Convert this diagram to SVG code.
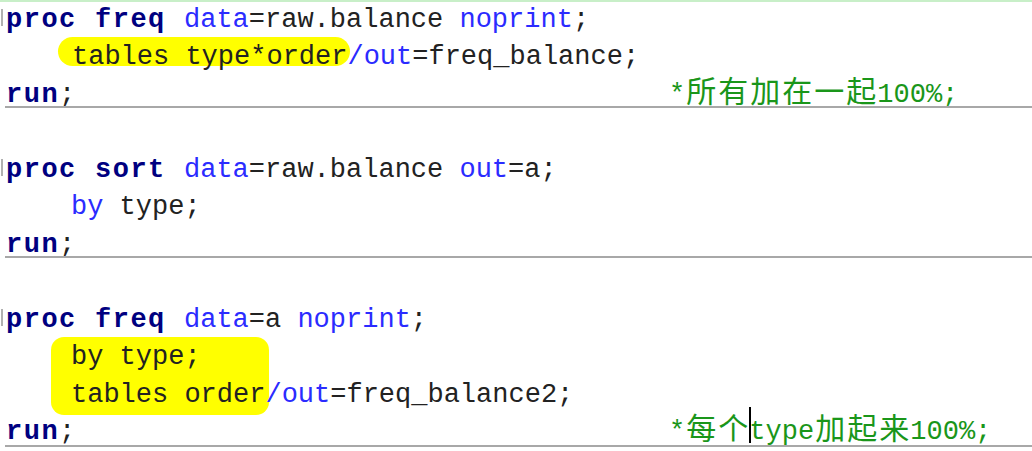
<svg xmlns="http://www.w3.org/2000/svg" width="1032" height="451" viewBox="0 0 1032 451">
<style>
text{font-family:"Liberation Mono","DejaVu Sans Mono",monospace;font-size:27px;fill:#222;white-space:pre}
.kw{font-weight:bold;fill:#000080;letter-spacing:1.5px}
.op{fill:#2b2bff}
.cm{fill:#1a961a}
.cj{font-family:"Noto Sans CJK SC",sans-serif;font-size:30px}
.rule{fill:#a8a8a8}
.tick{fill:#b0b0b0}
.hl{fill:#ffff00}
</style>
<rect x="0" y="0" width="1032" height="451" fill="#ffffff"/>
<rect x="0" y="0" width="1032" height="2" fill="#c8efc8"/>

<g id="block1">
<rect class="hl" x="58" y="37" width="292" height="29" rx="14.5"/>
<rect class="tick" x="1" y="9" width="2" height="17"/>
<text x="6" y="26.5" class="kw">proc</text>
<text x="95" y="26.5" class="kw">freq</text>
<text x="184" y="26.5"><tspan class="op">data</tspan>=raw.balance <tspan class="op">noprint</tspan>;</text>
<text x="72" y="64">tables type*order<tspan class="op">/out</tspan>=freq_balance;</text>
<text x="6" y="101.5" class="kw">run</text>
<text x="59" y="101.5">;</text>
<text y="101.5" class="cm"><tspan x="669">*</tspan><tspan class="cj" x="686.3 718.3 750.3 782.3 814.3 846.3">所有加在一起</tspan><tspan x="877.3">100%;</tspan></text>
<rect class="rule" x="5" y="106" width="1027" height="2"/>
</g>

<g id="block2">
<rect class="tick" x="1" y="159" width="2" height="17"/>
<text x="6" y="176.5" class="kw">proc</text>
<text x="95" y="176.5" class="kw">sort</text>
<text x="184" y="176.5"><tspan class="op">data</tspan>=raw.balance <tspan class="op">out</tspan>=a;</text>
<text x="71" y="214"><tspan class="op">by</tspan> type;</text>
<text x="6" y="251.5" class="kw">run</text>
<text x="59" y="251.5">;</text>
<rect class="rule" x="5" y="256" width="1027" height="2"/>
</g>

<g id="block3">
<rect class="hl" x="51" y="337" width="218" height="78" rx="13"/>
<rect class="tick" x="1" y="309" width="2" height="17"/>
<text x="6" y="326.5" class="kw">proc</text>
<text x="95" y="326.5" class="kw">freq</text>
<text x="184" y="326.5"><tspan class="op">data</tspan>=a <tspan class="op">noprint</tspan>;</text>
<text x="71" y="364">by type;</text>
<text x="71" y="401.5">tables order<tspan class="op">/out</tspan>=freq_balance2;</text>
<text x="6" y="439" class="kw">run</text>
<text x="59" y="439">;</text>
<text y="439" class="cm"><tspan x="669">*</tspan><tspan class="cj" x="686.3 718.3">每个</tspan><tspan x="749.3">type</tspan><tspan class="cj" x="815.3 847.3 879.3">加起来</tspan><tspan x="910.3">100%;</tspan></text>
<rect x="749" y="407" width="2" height="36" fill="#000"/>
<rect class="rule" x="5" y="445" width="1027" height="2"/>
</g>
</svg>
